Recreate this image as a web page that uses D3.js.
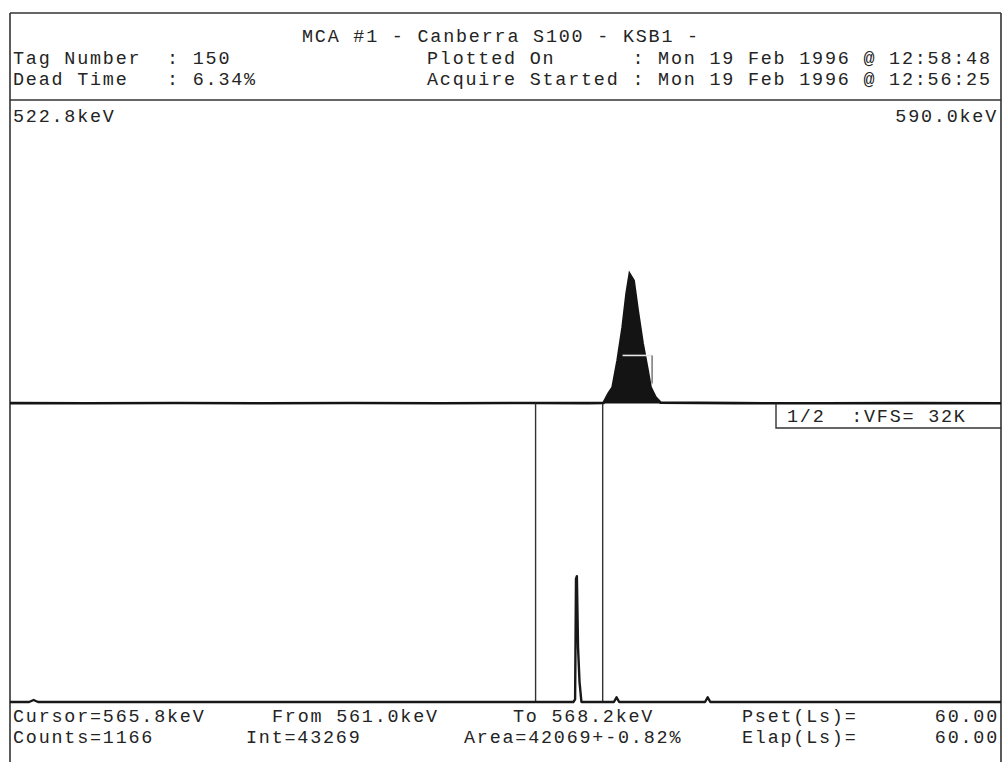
<!DOCTYPE html>
<html>
<head>
<meta charset="utf-8">
<script src="https://cdn.jsdelivr.net/npm/d3@7/dist/d3.min.js"></script>
<style>
  html, body { margin: 0; padding: 0; background: #fff; }
  svg { display: block; }
  text { font-family: "Liberation Mono", "Courier New", monospace; font-size: 18.4px; letter-spacing: 1.8px; fill: #242424; white-space: pre; }
</style>
</head>
<body>
<svg id="chart" width="1004" height="762"></svg>
<script>
// ---------------- data ----------------
const titleText = "MCA #1 - Canberra S100 - KSB1 -";
const headerLeft = ["Tag Number  : 150", "Dead Time   : 6.34%"];
const headerRight = ["Plotted On      : Mon 19 Feb 1996 @ 12:58:48",
                     "Acquire Started : Mon 19 Feb 1996 @ 12:56:25"];
const energyRange = [522.8, 590.0];
const rangeLabels = ["522.8keV", "590.0keV"];
const vfsLabel = "1/2  :VFS= 32K";
const fullScale = 32768;

// upper panel spectrum (energy keV, counts)
const upperEnergy = [522.8, 528.0, 534.0, 540.0, 546.0, 552.0, 558.0, 562.0,
  563.05, 563.39, 563.66, 564.00, 564.34, 564.61, 564.82, 565.09, 565.36,
  565.70, 566.04, 566.24, 566.58, 566.92, 572.0, 578.0, 584.0, 590.0];
const upperCounts = [40, 20, 60, 30, 50, 30, 60, 40,
  60, 1090, 1750, 4700, 8300, 12000, 14100, 13400, 10200,
  6550, 3600, 1750, 650, 100, 40, 20, 40, 30];

// region-of-interest marker inside the peak
const roiEnergy = [564.34, 566.34];
const roiLevel = 5240;
const roiTickBottom = 2180;

// lower panel spectrum
const lowerEnergy = [522.8, 524.1, 524.4, 524.7, 540.0, 555.0, 561.00, 561.12,
  561.18, 561.24, 561.32, 561.42, 561.55, 563.75, 563.93, 564.11,
  569.93, 570.11, 570.29, 590.0];
const lowerCounts = [0, 0, 220, 0, 0, 0, 0, 300,
  13600, 13900, 6000, 2200, 0, 0, 520, 0,
  0, 520, 0, 0];

// cursor / region markers in the lower panel
const markerEnergy = [558.44, 562.99];

const footerRow1 = ["Cursor=565.8keV", "From 561.0keV", "To 568.2keV", "Pset(Ls)=", "60.00"];
const footerRow2 = ["Counts=1166", "Int=43269", "Area=42069+-0.82%", "Elap(Ls)=", "60.00"];

// ---------------- layout ----------------
const svg = d3.select("#chart");
const L = 10, R = 1001, TOP = 13, HDR = 100, MID = 403.5, BOT = 702, H = 762;

const x = d3.scaleLinear().domain(energyRange).range([L, R]);
const yUp = d3.scaleLinear().domain([0, fullScale]).range([MID, HDR + 3]);
const yLo = d3.scaleLinear().domain([0, fullScale]).range([BOT, MID + 2]);

// frame
const frame = svg.append("g").attr("stroke", "#333").attr("stroke-width", 1.6);
frame.append("line").attr("x1", L).attr("x2", R).attr("y1", TOP).attr("y2", TOP);
frame.append("line").attr("x1", L).attr("x2", R).attr("y1", HDR).attr("y2", HDR);
frame.append("line").attr("x1", L).attr("x2", L).attr("y1", TOP).attr("y2", H);
frame.append("line").attr("x1", R).attr("x2", R).attr("y1", TOP).attr("y2", H);

// header text
svg.append("text").attr("x", 302).attr("y", 42).text(titleText);
headerLeft.forEach((t, i) => svg.append("text").attr("x", 13).attr("y", 64 + i * 21).text(t));
headerRight.forEach((t, i) => svg.append("text").attr("x", 427).attr("y", 64 + i * 21).text(t));

// range labels
svg.append("text").attr("x", 13).attr("y", 122).text(rangeLabels[0]);
svg.append("text").attr("x", 998).attr("y", 122).attr("text-anchor", "end").text(rangeLabels[1]);

// upper spectrum
const upData = upperEnergy.map((e, i) => [e, upperCounts[i]]);
svg.append("path").datum(upData)
  .attr("d", d3.area().x(d => x(d[0])).y0(yUp(0)).y1(d => yUp(d[1])))
  .attr("fill", "#141414");
svg.append("path").datum(upData)
  .attr("d", d3.line().x(d => x(d[0])).y(d => yUp(d[1])))
  .attr("fill", "none").attr("stroke", "#141414").attr("stroke-width", 2.6);

// ROI marker
svg.append("line")
  .attr("x1", x(roiEnergy[0])).attr("x2", x(roiEnergy[1]))
  .attr("y1", yUp(roiLevel)).attr("y2", yUp(roiLevel))
  .attr("stroke", "#e8e8e8").attr("stroke-width", 1.6);
svg.append("line")
  .attr("x1", x(roiEnergy[1])).attr("x2", x(roiEnergy[1]))
  .attr("y1", yUp(roiLevel)).attr("y2", yUp(roiTickBottom))
  .attr("stroke", "#555").attr("stroke-width", 1.2);

// lower markers
markerEnergy.forEach(e => {
  svg.append("line").attr("x1", x(e)).attr("x2", x(e))
    .attr("y1", MID).attr("y2", BOT)
    .attr("stroke", "#333").attr("stroke-width", 1.4);
});

// lower spectrum
const loData = lowerEnergy.map((e, i) => [e, lowerCounts[i]]);
svg.append("path").datum(loData)
  .attr("d", d3.line().x(d => x(d[0])).y(d => yLo(d[1])))
  .attr("fill", "none").attr("stroke", "#181818").attr("stroke-width", 2.4)
  .attr("stroke-linejoin", "round");

// VFS box
svg.append("path")
  .attr("d", `M776,${MID}V428H${R}`)
  .attr("fill", "none").attr("stroke", "#333").attr("stroke-width", 1.4);
svg.append("text").attr("x", 787).attr("y", 422).text(vfsLabel);

// footer
const footerX = [[13, 272, 513, 742], [13, 246, 464, 742]];
[footerRow1, footerRow2].forEach((row, r) => {
  const yy = 722 + r * 21;
  row.slice(0, 4).forEach((t, i) => svg.append("text").attr("x", footerX[r][i]).attr("y", yy).text(t));
  svg.append("text").attr("x", 999).attr("y", yy).attr("text-anchor", "end").text(row[4]);
});
</script>
</body>
</html>
